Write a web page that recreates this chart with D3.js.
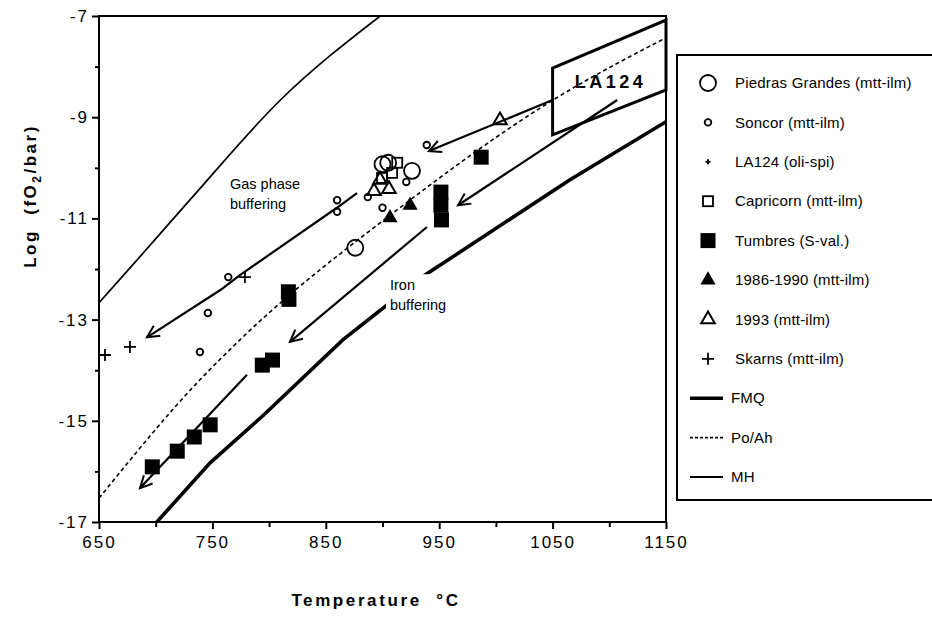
<!DOCTYPE html>
<html>
<head>
<meta charset="utf-8">
<script src="https://cdn.jsdelivr.net/npm/d3@7"></script>
<style>
  html, body { margin: 0; padding: 0; background: #fff; }
  svg { display: block; font-family: "Liberation Sans", Arial, Helvetica, sans-serif; }
</style>
</head>
<body>
<svg id="chart" width="932" height="623"></svg>
<script>
// Axis ticks
const xTicksMajor = [650, 750, 850, 950, 1050, 1150];
const xTicksMinor = [700, 800, 900, 1000, 1100];
const yTicksMajor = [-7, -9, -11, -13, -15, -17];
const yTicksMinor = [-8, -10, -12, -14, -16];

// Sample points: [temperature °C, log fO2]
const piedrasGrandes = [[900, -9.93], [905, -9.9], [926, -10.06], [876, -11.58]];
const soncor = [[860, -10.64], [860, -10.87], [939, -9.55], [887, -10.58], [900, -10.79],
                [921, -10.28], [764, -12.16], [746, -12.87], [739, -13.64]];
const capricorn = [[913, -9.9], [908.5, -10.1], [899.6, -10.2]];
const tumbres = [[987, -9.79], [951.5, -10.48], [951.5, -10.74], [952, -11.03],
                 [817, -12.45], [817.5, -12.6], [794, -13.9], [803, -13.8],
                 [748, -15.08], [734, -15.32], [719, -15.6], [697, -15.91]];
const eruptions8690 = [[906.6, -10.99], [924.3, -10.74]];
const eruption1993 = [[892.5, -10.46], [905.7, -10.42], [897.8, -10.24], [1003.6, -9.06]];
const skarns = [[778.7, -12.16], [655.3, -13.7], [677.3, -13.54]];

// Buffer curves
const fmq = [[701, -17], [748, -15.83], [795, -14.89], [865, -13.4], [937.5, -12.12], [1065, -10.24], [1150, -9.09]];
const poAh = [[650, -16.53], [739, -14.19], [774.3, -13.4], [915.4, -10.79], [1050.4, -8.66], [1150, -7.43]];
const mh = [[650, -12.67], [686, -11.76], [730, -10.64], [810, -8.66], [898, -7]];

// LA124 field and trend arrows
const la124Field = [[1050, -8.03], [1150, -7.08], [1150, -8.46], [1050, -9.35]];
const gasArrow = [[877.5, -10.5], [859.8, -10.79], [774.3, -12.12], [756.7, -12.42], [692.3, -13.35]];
const upperArrow = [[1050, -8.66], [941, -9.67]];
const ironArrowHigh = [[1107, -8.66], [966.6, -10.74]];
const ironArrowMid = [[939.2, -11.17], [818.4, -13.44]];
const ironArrowLow = [[780.5, -14.09], [686.2, -16.33]];

const legendItems = [
  { label: "Piedras Grandes (mtt-ilm)", kind: "bigCircle" },
  { label: "Soncor (mtt-ilm)", kind: "smallCircle" },
  { label: "LA124 (oli-spi)", kind: "smallPlus" },
  { label: "Capricorn (mtt-ilm)", kind: "openSquare" },
  { label: "Tumbres (S-val.)", kind: "filledSquare" },
  { label: "1986-1990 (mtt-ilm)", kind: "filledTriangle" },
  { label: "1993 (mtt-ilm)", kind: "openTriangle" },
  { label: "Skarns (mtt-ilm)", kind: "plus" },
  { label: "FMQ", kind: "fmq" },
  { label: "Po/Ah", kind: "poah" },
  { label: "MH", kind: "mh" }
];

const svg = d3.select("#chart");
const x = d3.scaleLinear().domain([650, 1150]).range([99, 666]);
const y = d3.scaleLinear().domain([-17, -7]).range([522, 16]);

const defs = svg.append("defs");
// Open arrow head
defs.append("marker")
  .attr("id", "vhead")
  .attr("markerUnits", "userSpaceOnUse")
  .attr("markerWidth", 16).attr("markerHeight", 16)
  .attr("refX", 13).attr("refY", 7)
  .attr("orient", "auto")
  .append("path")
  .attr("d", "M1,1 L13,7 L1,13")
  .attr("fill", "none").attr("stroke", "#000").attr("stroke-width", 2);
defs.append("clipPath").attr("id", "plotclip")
  .append("rect").attr("x", x(650)).attr("y", y(-7))
  .attr("width", x(1150) - x(650)).attr("height", y(-17) - y(-7));

const plot = svg.append("g");
const line = d3.line().x(d => x(d[0])).y(d => y(d[1]));
const smooth = d3.line().x(d => x(d[0])).y(d => y(d[1])).curve(d3.curveMonotoneX);

// Buffer curves
const curves = plot.append("g").attr("clip-path", "url(#plotclip)");
curves.append("path").attr("d", smooth(mh)).attr("fill", "none").attr("stroke", "#000").attr("stroke-width", 1.7);
curves.append("path").attr("d", smooth(poAh)).attr("fill", "none").attr("stroke", "#000")
  .attr("stroke-width", 1.6).attr("stroke-dasharray", "4,3");
curves.append("path").attr("d", line(fmq)).attr("fill", "none").attr("stroke", "#000").attr("stroke-width", 3.6);

// LA124 field
plot.append("path").attr("d", line(la124Field) + "Z").attr("fill", "none").attr("stroke", "#000")
  .attr("stroke-width", 3).attr("stroke-linejoin", "miter");

// Trend arrows
[gasArrow, upperArrow, ironArrowHigh, ironArrowMid, ironArrowLow].forEach(a => {
  plot.append("path").attr("d", line(a))
    .attr("fill", "none").attr("stroke", "#000").attr("stroke-width", 2.2)
    .attr("stroke-linejoin", "round")
    .attr("marker-end", "url(#vhead)");
});

// Annotations
function annot(lines, tx, ty, halo) {
  const g = plot.append("g");
  const t = g.append("text").attr("x", x(tx)).attr("y", y(ty))
    .attr("font-size", 14.5).attr("fill", "#000");
  lines.forEach((s, i) => t.append("tspan").attr("x", x(tx)).attr("dy", i === 0 ? 0 : 20).text(s));
  if (halo) {
    const b = t.node().getBBox();
    g.insert("rect", "text").attr("x", b.x - 4).attr("y", b.y - 3).attr("width", b.width + 8)
      .attr("height", b.height + 6).attr("fill", "#fff");
  }
}
annot(["Gas phase", "buffering"], 765.5, -10.42, false);
annot(["Iron", "buffering"], 906.6, -12.42, true);

plot.append("text").attr("x", x(1101)).attr("y", y(-8.42)).attr("text-anchor", "middle")
  .attr("font-size", 18).attr("font-weight", "bold").attr("letter-spacing", 3.5).text("LA124");

// Markers
const marks = plot.append("g");
function drawMark(g, kind, cx, cy) {
  switch (kind) {
    case "bigCircle":
      g.append("circle").attr("cx", cx).attr("cy", cy).attr("r", 8).attr("fill", "none").attr("stroke", "#000").attr("stroke-width", 1.8); break;
    case "smallCircle":
      g.append("circle").attr("cx", cx).attr("cy", cy).attr("r", 3.3).attr("fill", "none").attr("stroke", "#000").attr("stroke-width", 1.8); break;
    case "smallPlus":
      g.append("path").attr("d", `M${cx - 2.5},${cy}H${cx + 2.5}M${cx},${cy - 2.5}V${cy + 2.5}`).attr("stroke", "#000").attr("stroke-width", 2); break;
    case "openSquare":
      g.append("rect").attr("x", cx - 5).attr("y", cy - 5).attr("width", 10).attr("height", 10).attr("fill", "none").attr("stroke", "#000").attr("stroke-width", 1.8); break;
    case "filledSquare":
      g.append("rect").attr("x", cx - 7.5).attr("y", cy - 7.5).attr("width", 15).attr("height", 15).attr("fill", "#000"); break;
    case "filledTriangle":
      g.append("path").attr("transform", `translate(${cx},${cy})`).attr("d", d3.symbol(d3.symbolTriangle, 100)()).attr("fill", "#000"); break;
    case "openTriangle":
      g.append("path").attr("transform", `translate(${cx},${cy})`).attr("d", d3.symbol(d3.symbolTriangle, 80)()).attr("fill", "none").attr("stroke", "#000").attr("stroke-width", 2); break;
    case "plus":
      g.append("path").attr("d", `M${cx - 6},${cy}H${cx + 6}M${cx},${cy - 6}V${cy + 6}`).attr("stroke", "#000").attr("stroke-width", 1.8); break;
  }
}
const seriesList = [
  [tumbres, "filledSquare"], [eruptions8690, "filledTriangle"], [skarns, "plus"],
  [eruption1993, "openTriangle"], [capricorn, "openSquare"], [soncor, "smallCircle"], [piedrasGrandes, "bigCircle"]
];
seriesList.forEach(([data, kind]) => data.forEach(d => drawMark(marks, kind, x(d[0]), y(d[1]))));

// Frame and axes
const axes = svg.append("g");
axes.append("rect").attr("x", x(650)).attr("y", y(-7)).attr("width", x(1150) - x(650)).attr("height", y(-17) - y(-7))
  .attr("fill", "none").attr("stroke", "#000").attr("stroke-width", 2);

const gx = axes.append("g").attr("transform", `translate(0,${y(-17)})`)
  .call(d3.axisBottom(x).tickValues(xTicksMajor).tickSize(7).tickFormat(d3.format("d")));
gx.select(".domain").remove();
gx.selectAll("line").attr("stroke-width", 2);
gx.selectAll("text").attr("font-size", 17).attr("letter-spacing", 2).attr("dy", "0.95em")
  .attr("font-family", "'Liberation Sans', Arial, sans-serif").attr("fill", "#000");
const gxm = axes.append("g").attr("transform", `translate(0,${y(-17)})`)
  .call(d3.axisBottom(x).tickValues(xTicksMinor).tickSize(5).tickFormat(""));
gxm.select(".domain").remove();
gxm.selectAll("line").attr("stroke-width", 2);

const gy = axes.append("g").attr("transform", `translate(${x(650)},0)`)
  .call(d3.axisLeft(y).tickValues(yTicksMajor).tickSize(7).tickFormat(d => String(d)));
gy.select(".domain").remove();
gy.selectAll("line").attr("stroke-width", 2);
gy.selectAll("text").attr("font-size", 17).attr("letter-spacing", 2).attr("x", -10)
  .attr("font-family", "'Liberation Sans', Arial, sans-serif").attr("fill", "#000");
const gym = axes.append("g").attr("transform", `translate(${x(650)},0)`)
  .call(d3.axisLeft(y).tickValues(yTicksMinor).tickSize(4).tickFormat(""));
gym.select(".domain").remove();
gym.selectAll("line").attr("stroke-width", 2);

// Axis titles
svg.append("text").attr("x", 376).attr("y", 606).attr("text-anchor", "middle")
  .attr("font-size", 17).attr("font-weight", "bold").attr("letter-spacing", 2.6)
  .style("white-space", "pre").text("Temperature  \u00B0C");

const yt = svg.append("text").attr("transform", "translate(36,196) rotate(-90)").attr("text-anchor", "middle")
  .attr("font-size", 17).attr("font-weight", "bold").attr("letter-spacing", 2.5).style("white-space", "pre");
yt.append("tspan").text("Log  (fO");
yt.append("tspan").attr("font-size", 12).attr("dy", 5).text("2");
yt.append("tspan").attr("dy", -5).text("/bar)");

// Legend
const lg = svg.append("g");
lg.append("rect").attr("x", 677).attr("y", 55).attr("width", 270).attr("height", 445)
  .attr("fill", "#fff").attr("stroke", "#000").attr("stroke-width", 2);
legendItems.forEach((it, i) => {
  const cy = 83 + i * 39.4;
  const row = lg.append("g");
  let tx = 735;
  if (it.kind === "fmq" || it.kind === "poah" || it.kind === "mh") {
    row.append("line").attr("x1", 690).attr("x2", 723).attr("y1", cy).attr("y2", cy).attr("stroke", "#000")
      .attr("stroke-width", it.kind === "fmq" ? 3.6 : (it.kind === "mh" ? 1.8 : 1.6))
      .attr("stroke-dasharray", it.kind === "poah" ? "3,2" : null);
    tx = 731;
  } else {
    drawMark(row, it.kind, 708, cy);
  }
  row.append("text").attr("x", tx).attr("y", cy).attr("dy", "0.35em")
    .attr("font-size", 15).attr("letter-spacing", 0.2).text(it.label);
});
</script>
</body>
</html>
